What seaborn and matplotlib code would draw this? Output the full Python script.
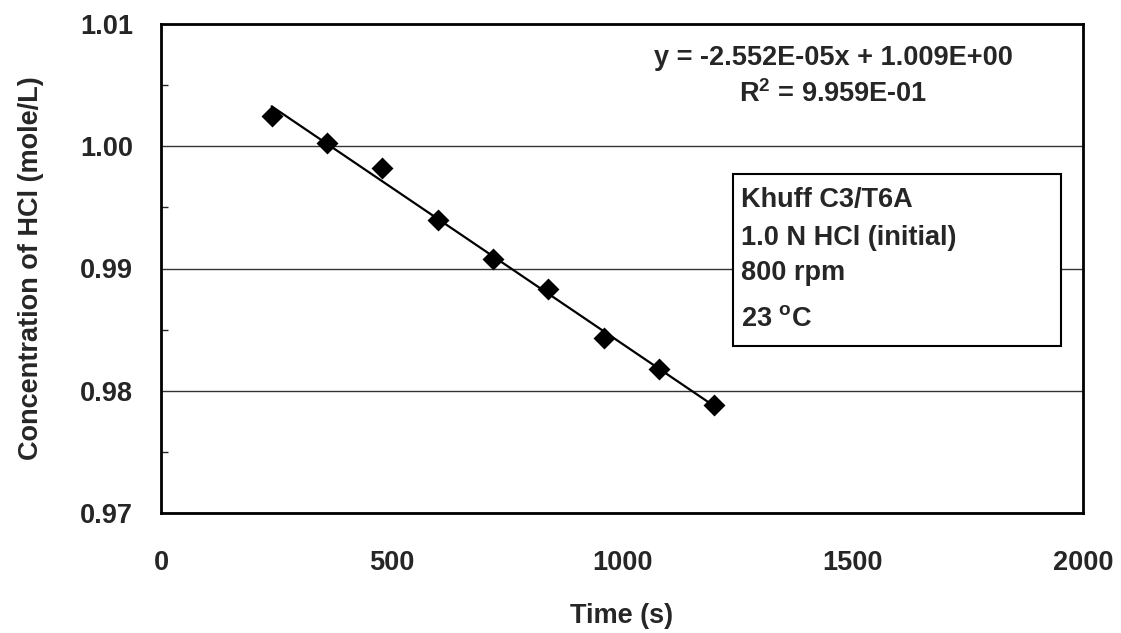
# HCl concentration vs time with linear fit
import numpy as np
import pandas as pd
import matplotlib
matplotlib.use("Agg")
import matplotlib.pyplot as plt
from matplotlib.patches import Rectangle
from matplotlib.ticker import MultipleLocator, FormatStrFormatter
import seaborn as sns

sns.set_style("white")
plt.rcParams['font.family'] = ['Liberation Sans', 'DejaVu Sans']
plt.rcParams['font.weight'] = 'bold'
plt.rcParams['mathtext.fontset'] = 'custom'
plt.rcParams['mathtext.rm'] = 'Liberation Sans:bold'
plt.rcParams['mathtext.default'] = 'rm'

# data
time_s = [240, 360, 480, 600, 720, 840, 960, 1080, 1200]
conc_hcl = [1.0025, 1.0003, 0.99825, 0.9940, 0.9908, 0.9883, 0.9843, 0.9818, 0.9788]
fit_text = "y = -2.552E-05x + 1.009E+00"
r2_text = "R$^{2}$ = 9.959E-01"
box_lines = ["Khuff C3/T6A", "1.0 N HCl (initial)", "800 rpm", "23 $^{o}$C"]

FS = 19.5

df = pd.DataFrame({"Time (s)": time_s, "Conc": conc_hcl})

fig = plt.figure(figsize=(11.21, 6.33), dpi=100)
ax = fig.add_axes([161 / 1121, 1 - 513 / 633, 922 / 1121, 489 / 633])

sns.regplot(data=df, x="Time (s)", y="Conc", ax=ax, ci=None, marker="D",
            scatter_kws={"s": 125, "color": "black", "alpha": 1, "zorder": 4,
                         "linewidths": 0},
            line_kws={"color": "black", "lw": 1.6, "zorder": 3})

ax.set_xlim(0, 2000)
ax.set_ylim(0.97, 1.01)
ax.xaxis.set_major_locator(MultipleLocator(500))
ax.yaxis.set_major_locator(MultipleLocator(0.01))
ax.yaxis.set_minor_locator(MultipleLocator(0.005))
ax.yaxis.set_major_formatter(FormatStrFormatter('%.2f'))
ax.grid(axis='y', which='major', color='#333333', lw=1.0)

for s in ax.spines.values():
    s.set_color('black')
    s.set_linewidth(2.0)

ax.tick_params(axis='x', which='major', direction='in', length=7, width=1,
               pad=27, labelsize=FS)
ax.tick_params(axis='y', which='major', direction='in', length=7, width=1,
               pad=20, labelsize=FS)
ax.tick_params(axis='y', which='minor', direction='in', length=5, width=1,
               left=True)
for lbl in ax.get_xticklabels() + ax.get_yticklabels():
    lbl.set_fontweight('bold')

ax.set_xlabel("Time (s)", fontsize=FS, fontweight='bold', labelpad=19)
ax.set_ylabel("Concentration of HCl (mole/L)", fontsize=FS, fontweight='bold',
              labelpad=26)

# fit equation
ax.text(0.729, 0.916, fit_text, transform=ax.transAxes, ha='center',
        va='baseline', fontsize=FS, fontweight='bold')
ax.text(0.729, 0.840, r2_text, transform=ax.transAxes, ha='center',
        va='baseline', fontsize=FS, fontweight='bold')

# conditions box
ax.add_patch(Rectangle((0.620, 0.342), 0.356, 0.351, transform=ax.transAxes,
                       fill=True, facecolor='white', edgecolor='black', lw=1.5,
                       zorder=5))
ys = [0.626, 0.548, 0.476, 0.382]
for t, y in zip(box_lines, ys):
    ax.text(0.629, y, t, transform=ax.transAxes, ha='left', va='baseline',
            fontsize=FS, fontweight='bold', zorder=6)

fig.savefig("out.png", dpi=100)
